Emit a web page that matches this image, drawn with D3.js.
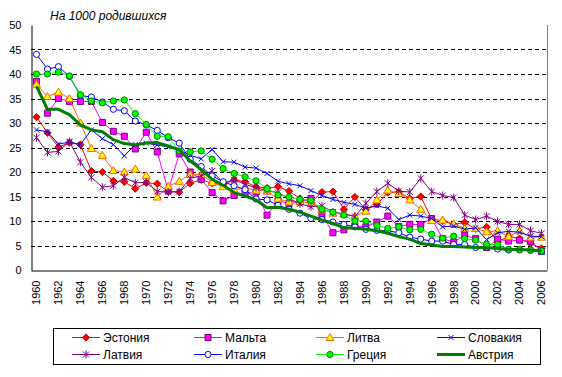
<!DOCTYPE html>
<html>
<head>
<meta charset="utf-8">
<script src="https://cdn.jsdelivr.net/npm/d3@7"></script>
<style>
  body { margin: 0; background: #fff; }
  svg { display: block; font-family: "Liberation Sans", Arial, sans-serif; }
</style>
</head>
<body>
<svg id="chart" width="562" height="377"></svg>
<script>
// data (per 1000 births), 1960..2006
const years = d3.range(1960, 2007)
const yTicks = [0, 5, 10, 15, 20, 25, 30, 35, 40, 45, 50]
const xTickYears = years.filter(y => y % 2 === 0)

const estonia = [31.2, 28.0, 25.1, 26.0, 25.6, 20.2, 20.0, 18.2, 18.0, 16.6, 17.8, 17.6, 16.0, 15.9, 17.7, 18.4, 17.7, 17.4, 18.4, 18.0, 17.0, 16.7, 17.0, 16.1, 14.6, 13.8, 15.9, 16.0, 12.4, 14.9, 12.3, 13.4, 15.8, 15.9, 14.6, 15.0, 10.4, 10.0, 9.3, 9.7, 8.4, 8.8, 5.7, 6.9, 6.4, 5.4, 4.4]
const malta = [38.5, 32.0, 35.0, 34.4, 34.4, 34.4, 30.1, 28.3, 27.3, 24.7, 28.1, 24.1, 16.2, 23.7, 20.0, 18.5, 15.8, 14.1, 15.2, 15.6, 15.9, 11.2, 14.2, 13.5, 13.9, 14.6, 11.3, 7.6, 8.2, 9.0, 8.8, 9.8, 11.0, 8.9, 9.3, 9.3, 10.5, 6.4, 5.7, 7.1, 6.4, 4.6, 6.3, 5.9, 6.1, 5.9, 3.8]
const lithuania = [37.9, 35.4, 36.3, 35.0, 30.0, 24.8, 23.4, 20.3, 20.0, 20.6, 19.3, 14.9, 17.1, 18.1, 19.5, 19.5, 17.9, 17.0, 16.4, 16.7, 16.3, 16.1, 14.5, 13.9, 14.0, 13.6, 12.4, 11.6, 11.4, 11.0, 12.0, 14.3, 16.3, 15.6, 14.3, 12.4, 10.1, 10.2, 9.4, 8.5, 8.5, 7.8, 8.0, 6.8, 8.0, 6.7, 6.7]
const slovakia = [28.6, 28.2, 25.7, 26.1, 25.6, 28.6, 26.8, 25.6, 23.3, 25.6, 25.9, 25.5, 25.1, 24.5, 23.4, 22.7, 24.6, 22.1, 22.0, 21.0, 20.8, 19.7, 18.1, 17.6, 17.2, 16.2, 15.2, 14.4, 13.8, 13.4, 12.6, 13.1, 12.6, 10.3, 11.2, 11.0, 10.5, 8.8, 9.0, 8.3, 8.6, 6.2, 7.6, 7.9, 7.7, 6.9, 6.8]
const latvia = [27.0, 24.0, 24.2, 26.2, 22.0, 18.9, 16.9, 17.2, 18.9, 17.8, 17.9, 16.0, 15.9, 16.0, 18.7, 19.2, 20.2, 17.8, 18.4, 17.5, 16.8, 16.2, 15.8, 14.6, 13.5, 12.9, 13.1, 11.8, 11.5, 10.9, 13.6, 16.0, 17.7, 16.1, 15.9, 18.7, 16.0, 15.2, 14.8, 11.2, 10.3, 11.0, 9.9, 9.3, 9.3, 8.0, 7.5]
const italy = [44.0, 41.0, 41.5, 39.5, 35.6, 35.3, 34.3, 32.8, 32.5, 30.4, 29.6, 28.5, 27.0, 25.9, 22.6, 21.1, 19.2, 18.0, 17.2, 16.4, 14.5, 14.3, 13.2, 12.4, 11.6, 10.5, 10.3, 9.8, 9.3, 8.8, 8.3, 8.1, 8.0, 7.6, 6.7, 6.3, 5.9, 5.9, 5.2, 5.2, 4.6, 4.7, 4.3, 4.1, 4.1, 4.0, 3.8]
const greece = [40.0, 40.0, 40.4, 39.6, 35.8, 34.5, 34.1, 34.5, 34.7, 31.9, 29.7, 27.3, 27.2, 24.3, 24.1, 24.3, 22.6, 20.7, 19.7, 19.0, 18.2, 16.6, 15.3, 14.9, 14.4, 14.2, 12.4, 11.8, 11.2, 10.0, 10.0, 9.1, 8.5, 8.8, 8.2, 8.3, 7.3, 6.5, 6.9, 6.4, 6.1, 5.2, 5.2, 4.2, 4.2, 4.1, 3.9]
const austria = [37.5, 32.8, 32.8, 31.7, 29.6, 28.6, 28.2, 26.6, 25.8, 25.5, 25.9, 26.0, 25.3, 24.5, 22.3, 20.5, 18.5, 17.3, 15.8, 15.1, 14.3, 12.7, 12.8, 12.4, 11.8, 11.0, 10.2, 9.5, 8.6, 8.5, 8.3, 8.0, 7.5, 6.8, 6.3, 5.4, 5.1, 4.8, 4.8, 4.7, 4.6, 4.6, 4.4, 4.2, 4.2, 4.1, 3.9]

const names = ["Эстония", "Мальта", "Литва", "Словакия", "Латвия", "Италия", "Греция", "Австрия"]

// marker shapes, drawn around 0,0
const markerPaths = {
  diamond: "M0,-3.6L3.6,0L0,3.6L-3.6,0Z",
  square: "M-3,-3H3V3H-3Z",
  triangle: "M0,-4L4,3H-4Z",
  circle: d3.symbol(d3.symbolCircle, 30)(),
  cross: "M-2.5,-2.5L2.5,2.5M-2.5,2.5L2.5,-2.5",
  star: "M-3,-3L3,3M-3,3L3,-3M0,-4V4"
}

const series = [
  { name: names[0], values: estonia, line: "#ff0000", width: 1, marker: "diamond", fill: "#ff0000", stroke: "#c00000" },
  { name: names[1], values: malta, line: "#ff00ff", width: 1, marker: "square", fill: "#ff00ff", stroke: "#800080" },
  { name: names[2], values: lithuania, line: "#ff6600", width: 1, marker: "triangle", fill: "#ffff00", stroke: "#ff6600" },
  { name: names[3], values: slovakia, line: "#0000ff", width: 1, marker: "cross", fill: "none", stroke: "#0000ff" },
  { name: names[4], values: latvia, line: "#800080", width: 1, marker: "star", fill: "none", stroke: "#800080" },
  { name: names[5], values: italy, line: "#0000ff", width: 1, marker: "circle", fill: "#ffffff", stroke: "#0000ff" },
  { name: names[6], values: greece, line: "#00ff00", width: 1, marker: "circle", fill: "#00ff00", stroke: "#008000" },
  { name: names[7], values: austria, line: "#008000", width: 3, marker: null }
]

const svg = d3.select("#chart")

const plot = { left: 31, right: 547, top: 25, bottom: 270 }

const x = d3.scaleBand()
            .domain(years)
            .range([plot.left, plot.right])
const y = d3.scaleLinear()
            .domain([0, 50])
            .range([plot.bottom, plot.top])
const cx = d => x(d) + x.bandwidth() / 2

// title
svg.append("text")
   .attr("x", 50).attr("y", 20)
   .style("font-size", "12px").style("font-style", "italic")
   .text("На 1000 родившихся")

// dashed gridlines
svg.append("g")
   .selectAll("line")
   .data(yTicks.filter(t => t > 0 && t < 50))
   .enter().append("line")
   .attr("x1", plot.left).attr("x2", plot.right)
   .attr("y1", d => Math.round(y(d)) + 0.5).attr("y2", d => Math.round(y(d)) + 0.5)
   .attr("stroke", "#000").attr("stroke-dasharray", "4,3")

// right border of plot area
svg.append("line")
   .attr("x1", plot.right + 0.5).attr("x2", plot.right + 0.5)
   .attr("y1", plot.top).attr("y2", plot.bottom)
   .attr("stroke", "#808080")

// y axis
const yAxis = svg.append("g")
                 .attr("transform", "translate(" + (plot.left + 0.5) + ",0)")
                 .call(d3.axisLeft(y).tickValues(yTicks).tickSize(0).tickPadding(10))
yAxis.select(".domain").attr("stroke", "#000")
yAxis.selectAll("text").style("font-size", "11px").attr("fill", "#000")

// x axis
const xAxis = svg.append("g")
                 .attr("transform", "translate(0," + (plot.bottom + 0.5) + ")")
                 .call(d3.axisBottom(x).tickValues(xTickYears).tickSize(0).tickPadding(0))
xAxis.select(".domain").attr("stroke", "#000")
xAxis.selectAll("text")
     .style("font-size", "11px").attr("fill", "#000")
     .attr("text-anchor", "end")
     .attr("transform", "translate(0,10) rotate(-90)")
     .attr("x", 0).attr("y", 0).attr("dy", "0.35em")

// lines
const line = d3.line()
               .x((d, i) => cx(years[i]))
               .y(d => y(d))

series.forEach(s => {
  svg.append("path")
     .datum(s.values)
     .attr("d", line)
     .attr("fill", "none")
     .attr("stroke", s.line)
     .attr("stroke-width", s.width)
     .attr("stroke-linejoin", "round")
  if (s.marker) {
    svg.append("g")
       .selectAll("path")
       .data(s.values)
       .enter().append("path")
       .attr("transform", (d, i) => "translate(" + cx(years[i]) + "," + y(d) + ")")
       .attr("d", markerPaths[s.marker])
       .attr("fill", s.fill)
       .attr("stroke", s.stroke)
       .attr("stroke-width", 1)
  }
})

// legend
const legend = svg.append("g")
legend.append("rect")
      .attr("x", 53.5).attr("y", 328.5)
      .attr("width", 487).attr("height", 36)
      .attr("fill", "#fff").attr("stroke", "#000")

const colX = [72, 194, 316, 437]
const rowY = [337.5, 354.5]

const item = legend.selectAll("g.item")
                   .data(series)
                   .enter().append("g")
                   .attr("class", "item")
                   .attr("transform", (s, i) => "translate(" + colX[i % 4] + "," + rowY[Math.floor(i / 4)] + ")")
item.append("line")
    .attr("x1", 0).attr("x2", 28)
    .attr("stroke", s => s.line)
    .attr("stroke-width", s => s.width)
item.filter(s => s.marker)
    .append("path")
    .attr("transform", "translate(14,0)")
    .attr("d", s => markerPaths[s.marker])
    .attr("fill", s => s.fill)
    .attr("stroke", s => s.stroke)
item.append("text")
    .attr("x", 31).attr("dy", "0.36em")
    .style("font-size", "12px")
    .text(s => s.name)
</script>
</body>
</html>
